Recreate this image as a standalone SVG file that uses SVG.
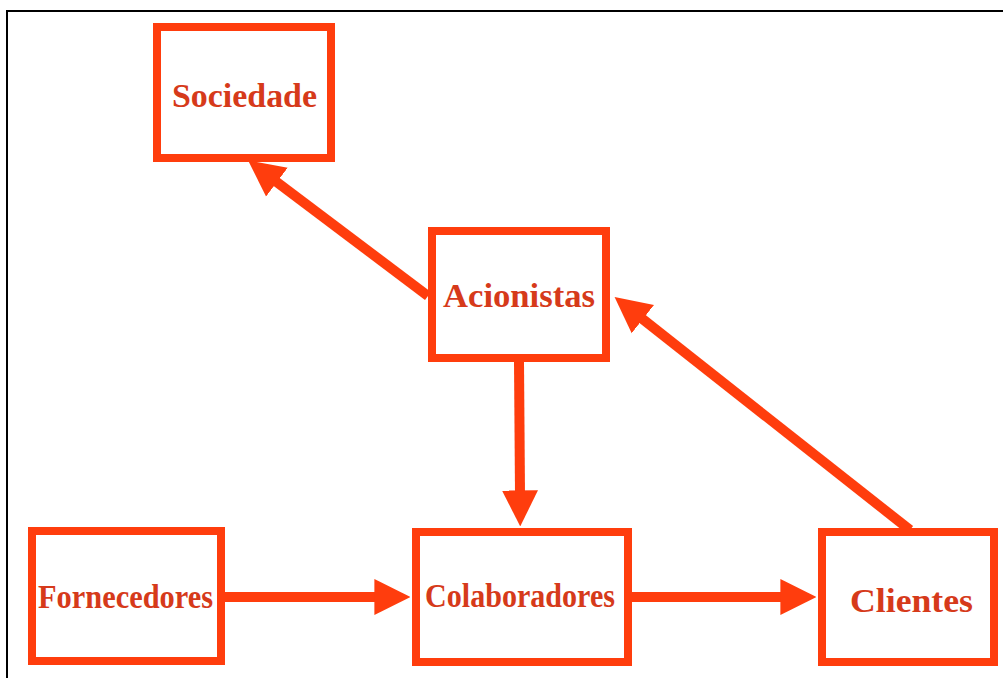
<svg xmlns="http://www.w3.org/2000/svg" width="1003" height="678" viewBox="0 0 1003 678">
  <style>
    .box { fill: #ffffff; stroke: #ff3d0d; stroke-width: 8; }
    .lbl { font-family: "Liberation Serif", "Times New Roman", serif; font-weight: bold; font-size: 34px; fill: #d63a1a; }
    .edge { stroke: #ff3d0d; stroke-width: 10; fill: none; marker-end: url(#head); }
    .frame { stroke: #000000; stroke-width: 2; fill: none; }
  </style>
  <defs>
    <marker id="head" viewBox="0 0 10 10" markerUnits="strokeWidth" markerWidth="3.6" markerHeight="4" refX="1" refY="5" orient="auto">
      <path d="M0,0 L10,5 L0,10 z" fill="#ff3d0d"/>
    </marker>
  </defs>
  <rect width="1003" height="678" fill="#ffffff"/>
  <path class="frame" d="M7,678 L7,11 L1003,11"/>

  <g id="connectors">
    <line class="edge" x1="428" y1="296" x2="274" y2="180"/>
    <line class="edge" x1="910" y1="530" x2="640" y2="317"/>
    <line class="edge" x1="519" y1="362" x2="520" y2="494"/>
    <line class="edge" x1="224" y1="597" x2="378" y2="597"/>
    <line class="edge" x1="631" y1="597" x2="784" y2="597"/>
  </g>

  <g id="sociedade">
    <rect class="box" x="157" y="27" width="174" height="131"/>
    <text class="lbl" x="172" y="107" textLength="145" lengthAdjust="spacingAndGlyphs">Sociedade</text>
  </g>
  <g id="acionistas">
    <rect class="box" x="432" y="231" width="174" height="127"/>
    <text class="lbl" x="443" y="307" textLength="152" lengthAdjust="spacingAndGlyphs">Acionistas</text>
  </g>
  <g id="fornecedores">
    <rect class="box" x="32" y="531" width="189" height="130"/>
    <text class="lbl" x="38" y="608" textLength="175" lengthAdjust="spacingAndGlyphs">Fornecedores</text>
  </g>
  <g id="colaboradores">
    <rect class="box" x="416" y="532" width="212" height="130"/>
    <text class="lbl" x="425" y="607" textLength="190" lengthAdjust="spacingAndGlyphs">Colaboradores</text>
  </g>
  <g id="clientes">
    <rect class="box" x="822" y="532" width="172" height="130"/>
    <text class="lbl" x="850" y="612" textLength="123" lengthAdjust="spacingAndGlyphs">Clientes</text>
  </g>
</svg>
